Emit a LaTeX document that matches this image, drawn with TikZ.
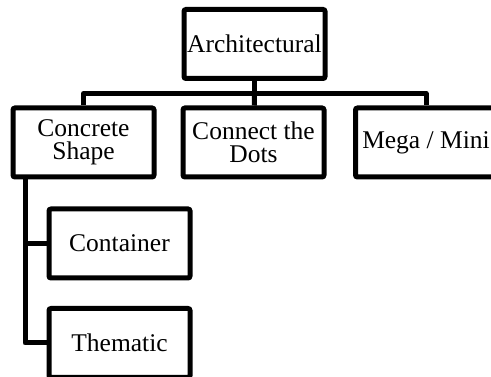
\documentclass[tikz,border=0pt]{standalone}
\usepackage{fontspec}
\setmainfont{Liberation Serif}
\tikzset{
  box/.style={draw, line width=5pt, rounded corners=2pt, minimum width=141pt,
    minimum height=69pt, inner sep=0pt, align=center,
    font=\fontsize{25.5}{23}\selectfont},
  wire/.style={line width=5pt, line join=round}
}
\begin{document}
\begin{tikzpicture}[x=1pt, y=-1pt]
            \clip (0,0) rectangle (491,377);

            % top and the three boxes below it
            \node[box] (arch) at (254.5,44) {Architectural};
            \node[box] (concrete) at (83.5,142.5) {Concrete\\Shape};
            \node[box] (connect) at (253.5,142.5) {Connect the\\Dots};
            \node[box] (mega) at (426,142.5) {Mega / Mini};

            % the two boxes under Concrete Shape
            \node[box] (container) at (119.5,243.5) {Container};
            \node[box] (thematic) at (119.5,343) {Thematic};

            \coordinate (bus) at (254.5,93.5);
            \draw[wire] (arch) -- (bus);
            \draw[wire] (concrete) |- (bus) -| (mega);
            \draw[wire] (bus) -- (connect);

            \coordinate (spine) at ([xshift=14.5pt]concrete.south west);
            \draw[wire] (spine) |- (container.west);
            \draw[wire] (spine) |- (thematic.west);
        \end{tikzpicture}
\end{document}
